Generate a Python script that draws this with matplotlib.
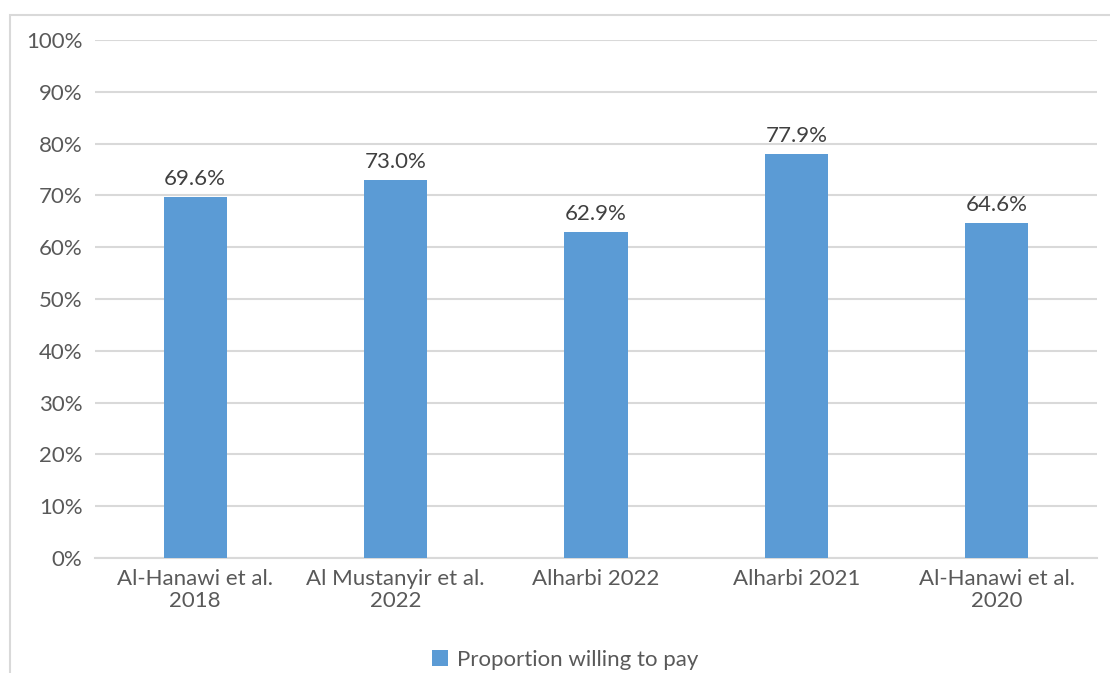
import matplotlib
matplotlib.use("Agg")
import matplotlib.pyplot as plt
from matplotlib.patches import Rectangle
from matplotlib.ticker import FuncFormatter

categories = ["Al-Hanawi et al.\n2018", "Al Mustanyir et al.\n2022", "Alharbi 2022",
              "Alharbi 2021", "Al-Hanawi et al.\n2020"]
values = [69.6, 73.0, 62.9, 77.9, 64.6]
series_name = "Proportion willing to pay"

plt.rcParams['font.family'] = ['Lato', 'DejaVu Sans']
text_color = "#595959"
bar_color = "#5B9BD5"
grid_color = "#D9D9D9"
fs = 16

fig = plt.figure(figsize=(11.1, 6.73), dpi=100)
# outer frame (cropped at right and bottom)
fig.patches.append(Rectangle((10/1110, -0.1), 1.2, 1 - 15/673 + 0.1,
                             transform=fig.transFigure, fill=False,
                             edgecolor="#D9D9D9", linewidth=1.5))

ax = fig.add_axes([95/1110, 1 - 558/673, (1097 - 95)/1110, (558 - 40)/673])
x = range(len(categories))
bars = ax.bar(x, values, width=0.315, color=bar_color, zorder=3)
for xi, v in zip(x, values):
    ax.text(xi, v + 1.6, f"{v:.1f}%", ha="center", va="bottom",
            fontsize=fs, color="#404040")

ax.set_xlim(-0.5, len(categories) - 0.5)
ax.set_ylim(0, 100)
ax.set_yticks(range(0, 101, 10))
ax.yaxis.set_major_formatter(FuncFormatter(lambda v, p: f"{int(v)}%"))
ax.set_xticks(list(x))
ax.set_xticklabels(categories, linespacing=1.1)
ax.tick_params(axis="both", length=0, labelsize=fs, colors=text_color)
ax.tick_params(axis="y", pad=9)
ax.tick_params(axis="x", pad=8)
ax.grid(axis="y", color=grid_color, linewidth=1.5, zorder=0)
for s in ["top", "right", "left"]:
    ax.spines[s].set_visible(False)
ax.spines["bottom"].set_color(grid_color)
ax.spines["bottom"].set_linewidth(1.5)

leg = fig.legend([bars], [series_name], loc="center", bbox_to_anchor=(565/1110, 1 - 660/673),
                 frameon=False, fontsize=fs, handlelength=0.7, handleheight=0.7,
                 handletextpad=0.4)
for t in leg.get_texts():
    t.set_color(text_color)

fig.savefig("out.png", dpi=100)
